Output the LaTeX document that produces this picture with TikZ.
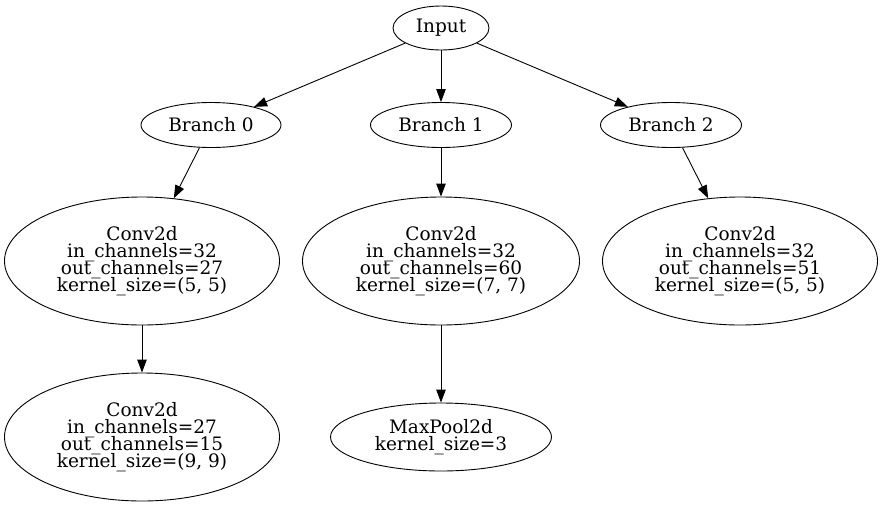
\documentclass[tikz,border=0pt]{standalone}
\usepackage{fontspec}
\setmainfont{DejaVu Serif}
\usetikzlibrary{shapes.geometric,arrows.meta}
\newcommand\myndfont{\fontsize{18.5}{17.2}\selectfont\setlength{\lineskiplimit}{-100pt}}
\begin{document}
\begin{tikzpicture}[x=1pt,y=-1pt,
  nd/.style={draw,ellipse,inner sep=0pt,align=center,line width=0.9pt,
    font=\myndfont},
  edge/.style={draw,line width=0.9pt,-{Triangle[length=13pt,width=9.5pt]}}]
\useasboundingbox (0,0) rectangle (883,507);
\node[nd,minimum width=96pt,minimum height=44pt] (in) at (441,28) {Input};
\node[nd,minimum width=140pt,minimum height=45pt] (b0) at (211,125) {Branch 0};
\node[nd,minimum width=141pt,minimum height=45pt] (b1) at (441,125) {Branch 1};
\node[nd,minimum width=141pt,minimum height=45pt] (b2) at (671,125) {Branch 2};
\node[nd,minimum width=275pt,minimum height=128pt] (c0) at (142,261) {Conv2d\\in\_channels=32\\out\_channels=27\\kernel\_size=(5, 5)};
\node[nd,minimum width=277pt,minimum height=128pt] (c1) at (441,261) {Conv2d\\in\_channels=32\\out\_channels=60\\kernel\_size=(7, 7)};
\node[nd,minimum width=275pt,minimum height=128pt] (c2) at (740,261) {Conv2d\\in\_channels=32\\out\_channels=51\\kernel\_size=(5, 5)};
\node[nd,minimum width=275pt,minimum height=128pt] (d0) at (142,437) {Conv2d\\in\_channels=27\\out\_channels=15\\kernel\_size=(9, 9)};
\node[nd,minimum width=221pt,minimum height=68pt] (m1) at (441,437) {MaxPool2d\\kernel\_size=3};
\path[edge] (in) -- (b0);
\path[edge] (in) -- (b1);
\path[edge] (in) -- (b2);
\path[edge] (b0) -- (c0);
\path[edge] (b1) -- (c1);
\path[edge] (b2) -- (c2);
\path[edge] (c0) -- (d0);
\path[edge] (c1) -- (m1);
\end{tikzpicture}
\end{document}
